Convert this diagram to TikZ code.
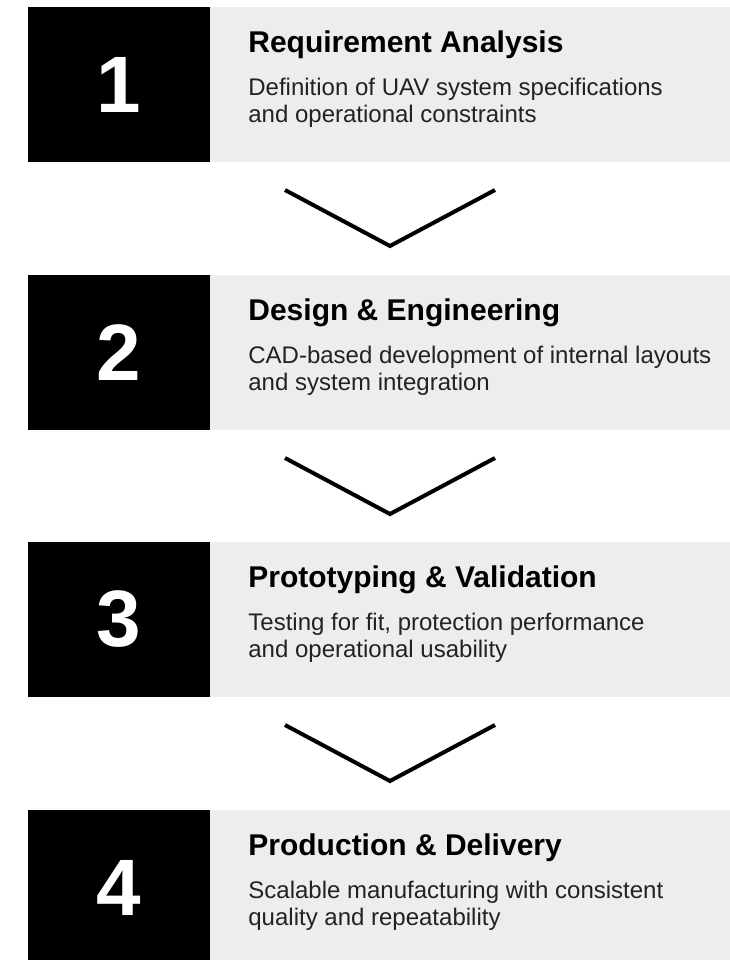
\documentclass[tikz,border=0pt]{standalone}
\usepackage{fontspec}
\setmainfont{Liberation Sans}
\usetikzlibrary{calc,positioning}
\definecolor{cardgray}{RGB}{237,237,237}
\definecolor{bodytext}{RGB}{34,34,34}
\tikzset{
  numbox/.style={fill=black, text=white, inner sep=0pt, minimum width=182pt, minimum height=155pt, font=\bfseries\fontsize{80}{90}\selectfont},
  card/.style={fill=cardgray, inner sep=0pt, minimum width=520pt, minimum height=155pt},
  steptitle/.style={anchor=base west, inner sep=0pt, font=\bfseries\fontsize{30}{36}\selectfont},
  stepbody/.style={anchor=base west, inner sep=0pt, align=left, text=bodytext, font=\fontsize{24}{26.5}\selectfont},
  chevron/.style={line width=4pt, miter limit=10}
}
\begin{document}
\begin{tikzpicture}[x=1pt, y=-1pt]
	\useasboundingbox (0,0) rectangle (730,960);

	% step 1
	\node[numbox] (num1) at (119,84.5) {\raisebox{-1.5pt}{1}}; \node[card, right=0pt of num1] (card1) {};
	\node[steptitle] (title1) at ($(card1.north west)+(38,46)$) {Requirement Analysis};
	\node[stepbody] (body1) at ($(card1.north west)+(38,115.5)$) {Definition of UAV system specifications\\and operational constraints};
	\coordinate (tip1) at (390,246); \draw[chevron] (285,190) -- (tip1) -- (495,190);

	% step 2
	\node[numbox] (num2) at (119,352.5) {\raisebox{-1.5pt}{2}}; \node[card, right=0pt of num2] (card2) {};
	\node[steptitle] (title2) at ($(card2.north west)+(38,46)$) {Design \& Engineering};
	\node[stepbody] (body2) at ($(card2.north west)+(38,115.5)$) {CAD-based development of internal layouts\\and system integration};
	\coordinate (tip2) at (390,514); \draw[chevron] (285,458) -- (tip2) -- (495,458);

	% step 3
	\node[numbox] (num3) at (119,619.5) {\raisebox{-1.5pt}{3}}; \node[card, right=0pt of num3] (card3) {};
	\node[steptitle] (title3) at ($(card3.north west)+(38,46)$) {Prototyping \& Validation};
	\node[stepbody] (body3) at ($(card3.north west)+(38,115.5)$) {Testing for fit, protection performance\\and operational usability};
	\coordinate (tip3) at (390,781); \draw[chevron] (285,725) -- (tip3) -- (495,725);

	% step 4
	\node[numbox] (num4) at (119,887.5) {\raisebox{-1.5pt}{4}}; \node[card, right=0pt of num4] (card4) {};
	\node[steptitle] (title4) at ($(card4.north west)+(38,46)$) {Production \& Delivery};
	\node[stepbody] (body4) at ($(card4.north west)+(38,115.5)$) {Scalable manufacturing with consistent\\quality and repeatability};
\end{tikzpicture}
\end{document}
